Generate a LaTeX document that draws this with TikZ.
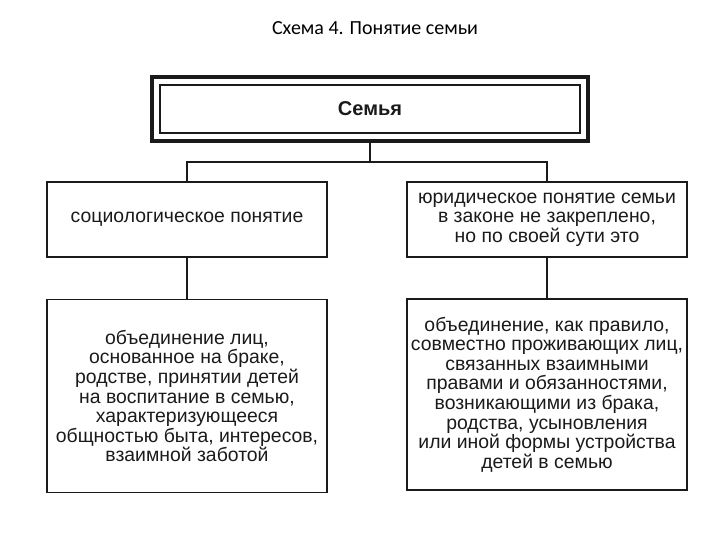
\documentclass[tikz,border=0pt]{standalone}
\usepackage{fontspec}
\setmainfont{Liberation Sans}
\newfontfamily\titlefont{Carlito}
\usetikzlibrary{positioning, fit}
\definecolor{inkblack}{HTML}{1A1A1A}

\tikzset{
  box/.style={draw=inkblack, line width=1.4pt, minimum width=280pt, align=center,
    font=\fontsize{19.4}{19.6}\selectfont, inner sep=1pt, text=inkblack},
  frame/.style={draw=inkblack, line width=3.6pt, inner sep=7.5pt},
  link/.style={draw=inkblack, line width=1.4pt}
}

\begin{document}
\begin{tikzpicture}[x=1pt, y={(0pt,-1pt)}]
  \useasboundingbox (0,0) rectangle (720,540);
  % title
  \node[font=\titlefont\fontsize{20}{22}\selectfont] (title) at (375,28) {Схема 4. Понятие семьи};
  % top box with double frame
  \node[box, minimum width=420pt, minimum height=48pt, font=\fontsize{20}{22}\selectfont\bfseries]
    (family) at (370,109) {Семья};
  \node[frame, fit=(family)] (familyframe) {};
  % second row
  \node[box, minimum height=75pt] (socio) at (187,219.5) {социологическое понятие};
  \node[box, minimum height=75pt] (legal) at (547,219.5)
    {юридическое понятие семьи\\в законе не закреплено,\\но по своей сути это};
  % third row
  \node[box, minimum height=193pt] (sociodef) at (187,396)
    {объединение лиц,\\основанное на браке,\\родстве, принятии детей\\на воспитание в семью,\\характеризующееся\\общностью быта, интересов,\\взаимной заботой};
  \node[box, minimum height=191pt] (legaldef) at (547,394.5)
    {объединение, как правило,\\совместно проживающих лиц,\\связанных взаимными\\правами и обязанностями,\\возникающими из брака,\\родства, усыновления\\или иной формы устройства\\детей в семью};
  % connectors
  \coordinate (fork) at (370,162);
  \draw[link] (familyframe.south) -- (fork);
  \draw[link] (socio.north) |- (fork) -| (legal.north);
  \draw[link] (socio.south) -- (sociodef.north);
  \draw[link] (legal.south) -- (legaldef.north);
\end{tikzpicture}
\end{document}
